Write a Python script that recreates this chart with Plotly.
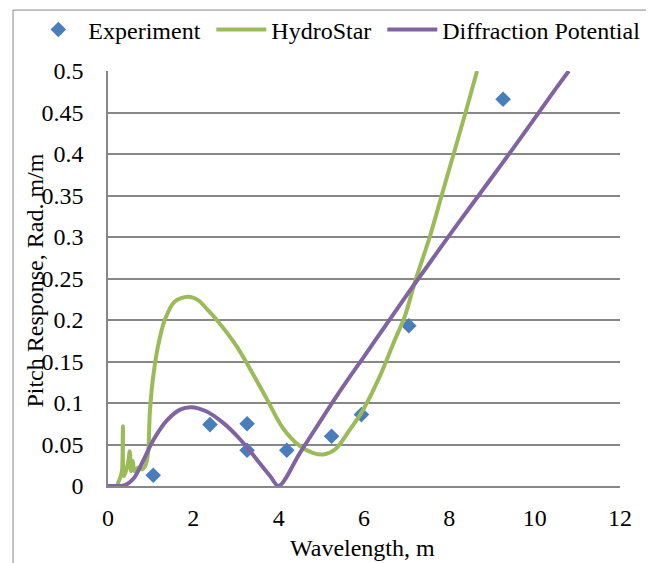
import plotly.graph_objects as go

# Experiment points
exp_x = [1.06, 2.39, 3.26, 3.26, 4.19, 5.24, 5.94, 7.05, 9.26]
exp_y = [0.013, 0.074, 0.075, 0.043, 0.043, 0.060, 0.086, 0.193, 0.466]

# HydroStar curve
hs_x = [0.22, 0.30, 0.33, 0.35, 0.37, 0.42, 0.47, 0.51, 0.54, 0.58, 0.62, 0.70, 0.80, 0.88,
        0.94, 0.98, 1.05, 1.17, 1.33, 1.56, 1.875, 2.11, 2.34, 2.55, 3.02, 3.33, 3.72,
        4.11, 4.50, 4.80, 5.05, 5.32, 5.67, 5.98, 6.37, 6.69, 6.96, 7.19, 7.54, 7.82,
        8.10, 8.38, 8.65]
hs_y = [0.002, 0.012, 0.020, 0.072, 0.012, 0.018, 0.028, 0.042, 0.018, 0.030, 0.018, 0.022, 0.020, 0.025,
        0.040, 0.088, 0.128, 0.168, 0.200, 0.222, 0.228, 0.224, 0.212, 0.200, 0.168, 0.141, 0.105,
        0.069, 0.048, 0.040, 0.038, 0.044, 0.068, 0.092, 0.132, 0.172, 0.205, 0.245, 0.300, 0.350,
        0.400, 0.450, 0.500]

# Diffraction Potential curve
dp_x = [0.0, 0.2, 0.4, 0.6, 0.83, 1.06, 1.38, 1.69, 1.95, 2.3, 2.7, 3.1, 3.5, 3.8, 4.0,
        4.5, 5.0, 5.5, 6.0, 6.5, 7.0, 7.5, 8.0, 8.5, 9.0, 9.5, 10.0, 10.5, 10.8]
dp_y = [0.0, 0.0, 0.001, 0.009, 0.031, 0.055, 0.079, 0.092, 0.095, 0.090, 0.076, 0.056, 0.031, 0.012, 0.0,
        0.040, 0.080, 0.119, 0.156, 0.193, 0.230, 0.266, 0.302, 0.337, 0.372, 0.407, 0.443, 0.479, 0.500]

x_ticks = [0, 2, 4, 6, 8, 10, 12]
y_ticks = [0, 0.05, 0.1, 0.15, 0.2, 0.25, 0.3, 0.35, 0.4, 0.45, 0.5]
y_tick_text = ["0", "0.05", "0.1", "0.15", "0.2", "0.25", "0.3", "0.35", "0.4", "0.45", "0.5"]

series_names = ["Experiment\u00a0", "HydroStar\u00a0", "Diffraction Potential"]

FONT = "Liberation Serif"
FS = 24
GRID = "#878787"

fig = go.Figure()
fig.add_trace(go.Scatter(x=exp_x, y=exp_y, mode="markers", name=series_names[0],
                         marker=dict(symbol="diamond", size=12, color="#4A7EBB")))
fig.add_trace(go.Scatter(x=hs_x, y=hs_y, mode="lines", name=series_names[1],
                         line=dict(color="#9BBB59", width=4, shape="spline", smoothing=0.9)))
fig.add_trace(go.Scatter(x=dp_x, y=dp_y, mode="lines", name=series_names[2],
                         line=dict(color="#8064A2", width=4, shape="spline", smoothing=0.9)))

# the page body adds an 8px offset; figure is sized/margined to compensate
fig.update_layout(
    width=646, height=555,
    margin=dict(l=100, r=34, t=63, b=77, autoexpand=False),
    paper_bgcolor="white", plot_bgcolor="white",
    font=dict(family=FONT, size=FS, color="black"),
    showlegend=True,
    legend=dict(orientation="h", x=-0.1556, xanchor="left", y=1.099, yanchor="middle",
                font=dict(family=FONT, size=FS), bgcolor="rgba(0,0,0,0)",
                itemwidth=50, tracegroupgap=0),
    xaxis=dict(range=[0, 12], tickvals=x_ticks, showgrid=False, zeroline=False,
               showline=True, linecolor=GRID, linewidth=1.5, automargin=False,
               ticks="outside", ticklen=9, tickcolor="rgba(0,0,0,0)",
               tickfont=dict(family=FONT, size=FS)),
    yaxis=dict(range=[0, 0.5], tickvals=y_ticks, ticktext=y_tick_text, showgrid=True,
               gridcolor=GRID, gridwidth=1.5, zeroline=False, automargin=False,
               showline=True, linecolor=GRID, linewidth=1.5,
               ticks="outside", ticklen=18, tickcolor="rgba(0,0,0,0)",
               tickfont=dict(family=FONT, size=FS)),
    annotations=[
        dict(text="Wavelength, m", xref="paper", yref="paper", x=0.497, y=-0.15,
             xanchor="center", yanchor="middle", showarrow=False,
             font=dict(family=FONT, size=FS)),
        dict(text="Pitch Response, Rad. m/m", xref="paper", yref="paper", x=-0.1426, y=0.495,
             xanchor="center", yanchor="middle", showarrow=False, textangle=-90,
             font=dict(family=FONT, size=FS)),
    ],
    shapes=[dict(type="rect", xref="paper", yref="paper", x0=-0.1855, x1=1.0547, y0=-0.2, y1=1.1468,
                 line=dict(color=GRID, width=1), fillcolor="rgba(0,0,0,0)", layer="below")],
)

fig.write_html("out.html")
